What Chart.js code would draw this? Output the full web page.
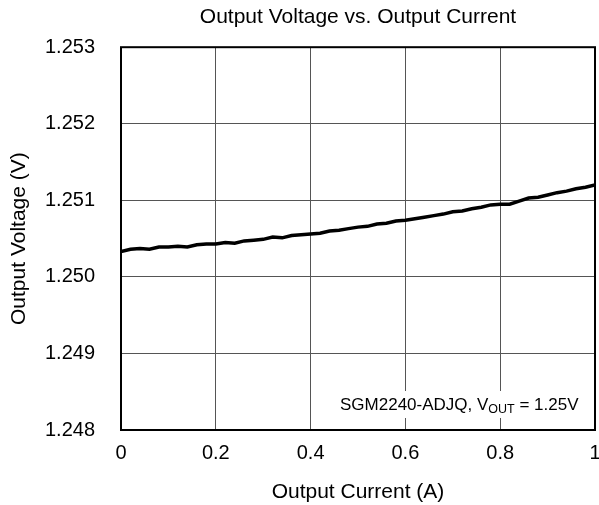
<!DOCTYPE html>
<html>
<head>
<meta charset="utf-8">
<script src="https://cdn.jsdelivr.net/npm/chart.js@4/dist/chart.umd.min.js"></script>
<style>
  html, body { margin: 0; padding: 0; background: #fff; }
  #wrap { width: 599px; height: 505px; }
</style>
</head>
<body>
<div id="wrap"><canvas id="vChart"></canvas></div>
<script>
// output current (A)
const currentA = [0, 0.02, 0.04, 0.06, 0.08, 0.10, 0.12, 0.14, 0.16, 0.18,
  0.20, 0.22, 0.24, 0.26, 0.28, 0.30, 0.32, 0.34, 0.36, 0.38,
  0.40, 0.42, 0.44, 0.46, 0.48, 0.50, 0.52, 0.54, 0.56, 0.58,
  0.60, 0.62, 0.64, 0.66, 0.68, 0.70, 0.72, 0.74, 0.76, 0.78,
  0.80, 0.82, 0.84, 0.86, 0.88, 0.90, 0.92, 0.94, 0.96, 0.98, 1.00];
// output voltage (V)
const voltageV = [1.25033, 1.25036, 1.25037, 1.25036, 1.25039, 1.25039, 1.25040, 1.25039, 1.25042, 1.25043,
  1.25043, 1.25045, 1.25044, 1.25047, 1.25048, 1.25049, 1.25052, 1.25051, 1.25054, 1.25055,
  1.25056, 1.25057, 1.25060, 1.25061, 1.25063, 1.25065, 1.25066, 1.25069, 1.25070, 1.25073,
  1.25074, 1.25076, 1.25078, 1.25080, 1.25082, 1.25085, 1.25086, 1.25089, 1.25091, 1.25094,
  1.25095, 1.25095, 1.25099, 1.25103, 1.25104, 1.25107, 1.25110, 1.25112, 1.25115, 1.25117, 1.25120];
const xTicks = [0, 0.2, 0.4, 0.6, 0.8, 1];
const yTicks = [1.248, 1.249, 1.250, 1.251, 1.252, 1.253];

const points = currentA.map((x, i) => ({ x: x, y: voltageV[i] }));
const FONT = "'Liberation Sans', Arial, sans-serif";

// frame around plot + note box
const framePlugin = {
  id: "frame",
  afterDraw(chart) {
    const ctx = chart.ctx;
    const a = chart.chartArea;
    ctx.save();
    // note box
    ctx.fillStyle = "#fff";
    ctx.fillRect(336, 391, a.right - 338, 27);
    ctx.fillStyle = "#000";
    ctx.textBaseline = "alphabetic";
    let x = 340;
    const base = 410;
    ctx.font = "17px " + FONT;
    ctx.fillText("SGM2240-ADJQ, V", x, base);
    x += ctx.measureText("SGM2240-ADJQ, V").width;
    ctx.font = "12.5px " + FONT;
    ctx.fillText("OUT", x, base + 3);
    x += ctx.measureText("OUT").width;
    ctx.font = "17px " + FONT;
    ctx.fillText(" = 1.25V", x, base);
    // frame
    ctx.strokeStyle = "#000";
    ctx.lineWidth = 2;
    ctx.strokeRect(a.left, a.top, a.right - a.left, a.bottom - a.top);
    ctx.restore();
  }
};

new Chart(document.getElementById("vChart"), {
  type: "line",
  data: {
    datasets: [{
      data: points,
      borderColor: "#000",
      borderWidth: 3.5,
      pointRadius: 0,
      tension: 0,
      fill: false
    }]
  },
  options: {
    responsive: true,
    maintainAspectRatio: false,
    animation: false,
    layout: { padding: { top: 0, right: 4, bottom: 0, left: 0 } },
    plugins: {
      legend: { display: false },
      tooltip: { enabled: false },
      title: {
        display: true,
        fullSize: false,
        text: "Output Voltage vs. Output Current",
        color: "#000",
        font: { family: FONT, size: 21, weight: "normal" },
        padding: { top: 5, bottom: 17 }
      }
    },
    scales: {
      x: {
        type: "linear",
        min: 0,
        max: 1,
        afterBuildTicks: (s) => { s.ticks = xTicks.map(v => ({ value: v })); },
        afterFit: (s) => { s.height = 75; s.paddingLeft = 0; s.paddingRight = 0; },
        ticks: {
          color: "#000",
          padding: 11,
          maxRotation: 0,
          font: { family: FONT, size: 20 },
          callback: (v) => String(v)
        },
        grid: { color: "#555", lineWidth: 1, drawTicks: false },
        border: { display: false },
        title: {
          display: true,
          text: "Output Current (A)",
          color: "#000",
          font: { family: FONT, size: 21 },
          padding: { top: 10, bottom: 0 }
        }
      },
      y: {
        min: 1.248,
        max: 1.253,
        afterBuildTicks: (s) => { s.ticks = yTicks.map(v => ({ value: v })); },
        afterFit: (s) => { s.width = 121; },
        ticks: {
          color: "#000",
          padding: 26,
          font: { family: FONT, size: 20 },
          callback: (v) => Number(v).toFixed(3)
        },
        grid: { color: "#555", lineWidth: 1, drawTicks: false },
        border: { display: false },
        title: {
          display: true,
          text: "Output Voltage (V)",
          color: "#000",
          font: { family: FONT, size: 21 },
          padding: { top: 7, bottom: 0 }
        }
      }
    }
  },
  plugins: [framePlugin]
});
</script>
</body>
</html>
